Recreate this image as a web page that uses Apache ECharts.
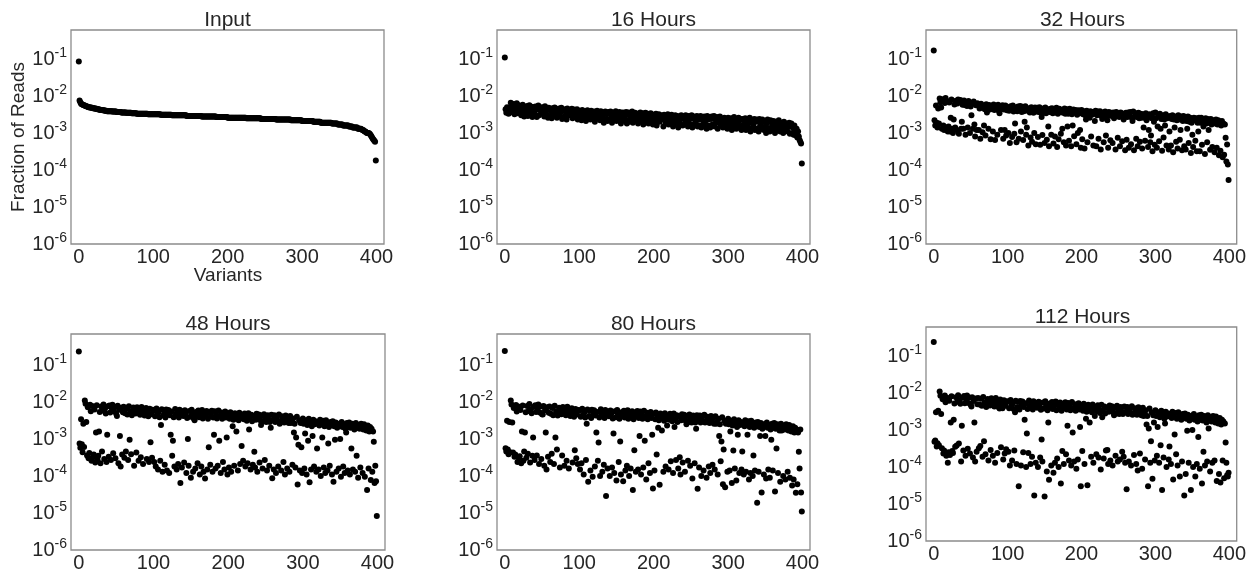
<!DOCTYPE html>
<html><head><meta charset="utf-8">
<script src="https://cdn.jsdelivr.net/npm/echarts@6/dist/echarts.min.js"></script>
<style>html,body{margin:0;padding:0;background:#fff}#c{width:1249px;height:573px}</style>
</head><body><div id="c"></div>
<script>
// ---- data (fraction of reads per variant) ----
const titles = ['Input', '16 Hours', '32 Hours', '48 Hours', '80 Hours', '112 Hours'];
const xTicks = [0, 100, 200, 300, 400];
const yTickExponents = [-6, -5, -4, -3, -2, -1];

const input = [
8.5e-2,7.5e-3,6.8e-3,6.2e-3,6.0e-3,5.9e-3,5.7e-3,5.6e-3,5.5e-3,5.4e-3,5.3e-3,5.2e-3,5.1e-3,5.0e-3,5.0e-3,4.9e-3,4.9e-3,4.8e-3,4.8e-3,4.7e-3,
4.7e-3,4.6e-3,4.6e-3,4.5e-3,4.5e-3,4.4e-3,4.4e-3,4.3e-3,4.3e-3,4.2e-3,4.2e-3,4.2e-3,4.1e-3,4.1e-3,4.1e-3,4.0e-3,4.0e-3,4.0e-3,3.9e-3,3.9e-3,
3.9e-3,3.9e-3,3.9e-3,3.9e-3,3.9e-3,3.8e-3,3.8e-3,3.8e-3,3.8e-3,3.8e-3,3.8e-3,3.7e-3,3.7e-3,3.7e-3,3.7e-3,3.7e-3,3.7e-3,3.6e-3,3.6e-3,3.6e-3,
3.6e-3,3.6e-3,3.6e-3,3.6e-3,3.5e-3,3.5e-3,3.5e-3,3.5e-3,3.5e-3,3.5e-3,3.5e-3,3.4e-3,3.4e-3,3.4e-3,3.4e-3,3.4e-3,3.4e-3,3.4e-3,3.3e-3,3.3e-3,
3.3e-3,3.3e-3,3.3e-3,3.3e-3,3.3e-3,3.3e-3,3.3e-3,3.3e-3,3.3e-3,3.3e-3,3.3e-3,3.3e-3,3.3e-3,3.2e-3,3.2e-3,3.2e-3,3.2e-3,3.2e-3,3.2e-3,3.2e-3,
3.2e-3,3.2e-3,3.2e-3,3.2e-3,3.2e-3,3.2e-3,3.2e-3,3.2e-3,3.2e-3,3.2e-3,3.1e-3,3.1e-3,3.1e-3,3.1e-3,3.1e-3,3.1e-3,3.1e-3,3.1e-3,3.1e-3,3.1e-3,
3.1e-3,3.1e-3,3.1e-3,3.1e-3,3.1e-3,3.0e-3,3.0e-3,3.0e-3,3.0e-3,3.0e-3,3.0e-3,3.0e-3,3.0e-3,3.0e-3,3.0e-3,3.0e-3,3.0e-3,3.0e-3,3.0e-3,3.0e-3,
3.0e-3,3.0e-3,3.0e-3,3.0e-3,3.0e-3,2.9e-3,2.9e-3,2.9e-3,2.9e-3,2.9e-3,2.9e-3,2.9e-3,2.9e-3,2.9e-3,2.9e-3,2.9e-3,2.9e-3,2.9e-3,2.9e-3,2.9e-3,
2.9e-3,2.9e-3,2.9e-3,2.9e-3,2.9e-3,2.8e-3,2.8e-3,2.8e-3,2.8e-3,2.8e-3,2.8e-3,2.8e-3,2.8e-3,2.8e-3,2.8e-3,2.8e-3,2.8e-3,2.8e-3,2.8e-3,2.8e-3,
2.8e-3,2.8e-3,2.8e-3,2.8e-3,2.8e-3,2.7e-3,2.7e-3,2.7e-3,2.7e-3,2.7e-3,2.7e-3,2.7e-3,2.7e-3,2.7e-3,2.7e-3,2.7e-3,2.7e-3,2.7e-3,2.7e-3,2.7e-3,
2.6e-3,2.6e-3,2.6e-3,2.6e-3,2.6e-3,2.6e-3,2.6e-3,2.6e-3,2.6e-3,2.6e-3,2.6e-3,2.6e-3,2.6e-3,2.6e-3,2.6e-3,2.6e-3,2.6e-3,2.6e-3,2.6e-3,2.6e-3,
2.6e-3,2.6e-3,2.6e-3,2.6e-3,2.6e-3,2.5e-3,2.5e-3,2.5e-3,2.5e-3,2.5e-3,2.5e-3,2.5e-3,2.5e-3,2.5e-3,2.5e-3,2.5e-3,2.5e-3,2.5e-3,2.5e-3,2.5e-3,
2.5e-3,2.5e-3,2.5e-3,2.5e-3,2.5e-3,2.4e-3,2.4e-3,2.4e-3,2.4e-3,2.4e-3,2.4e-3,2.4e-3,2.4e-3,2.4e-3,2.4e-3,2.4e-3,2.4e-3,2.4e-3,2.4e-3,2.4e-3,
2.4e-3,2.4e-3,2.4e-3,2.4e-3,2.4e-3,2.3e-3,2.3e-3,2.3e-3,2.3e-3,2.3e-3,2.3e-3,2.3e-3,2.3e-3,2.3e-3,2.3e-3,2.3e-3,2.3e-3,2.3e-3,2.3e-3,2.3e-3,
2.3e-3,2.3e-3,2.3e-3,2.3e-3,2.3e-3,2.2e-3,2.2e-3,2.2e-3,2.2e-3,2.2e-3,2.2e-3,2.2e-3,2.2e-3,2.2e-3,2.2e-3,2.2e-3,2.2e-3,2.2e-3,2.2e-3,2.2e-3,
2.1e-3,2.1e-3,2.1e-3,2.1e-3,2.1e-3,2.1e-3,2.1e-3,2.1e-3,2.1e-3,2.1e-3,2.1e-3,2.1e-3,2.1e-3,2.1e-3,2.1e-3,2.0e-3,2.0e-3,2.0e-3,2.0e-3,2.0e-3,
2.0e-3,2.0e-3,2.0e-3,2.0e-3,2.0e-3,1.9e-3,1.9e-3,1.9e-3,1.9e-3,1.9e-3,1.9e-3,1.9e-3,1.9e-3,1.9e-3,1.9e-3,1.9e-3,1.9e-3,1.9e-3,1.9e-3,1.9e-3,
1.8e-3,1.8e-3,1.8e-3,1.8e-3,1.8e-3,1.8e-3,1.8e-3,1.8e-3,1.7e-3,1.7e-3,1.7e-3,1.7e-3,1.7e-3,1.7e-3,1.7e-3,1.6e-3,1.6e-3,1.6e-3,1.6e-3,1.6e-3,
1.6e-3,1.6e-3,1.6e-3,1.5e-3,1.5e-3,1.5e-3,1.5e-3,1.5e-3,1.4e-3,1.4e-3,1.4e-3,1.4e-3,1.4e-3,1.4e-3,1.4e-3,1.3e-3,1.3e-3,1.3e-3,1.3e-3,1.3e-3,
1.25e-3,1.2e-3,1.2e-3,1.15e-3,1.1e-3,1.1e-3,1.05e-3,1.0e-3,1.0e-3,1.0e-3,9.8e-4,9.4e-4,8.8e-4,8.2e-4,7.6e-4,7.0e-4,6.6e-4,6.2e-4,5.8e-4,1.8e-4];

const h16 = [
1.1e-1,4.4e-3,3.5e-3,5.0e-3,4.1e-3,3.3e-3,4.7e-3,3.9e-3,6.6e-3,5.4e-3,4.5e-3,3.6e-3,6.1e-3,3.2e-3,4.2e-3,5.2e-3,6.4e-3,3.4e-3,5.7e-3,3.8e-3,
3.5e-3,4.9e-3,3.0e-3,4.2e-3,5.8e-3,3.4e-3,2.8e-3,3.9e-3,4.6e-3,3.2e-3,5.4e-3,2.9e-3,4.4e-3,5.6e-3,3.6e-3,4.8e-3,5.1e-3,2.7e-3,4.0e-3,4.5e-3,
3.3e-3,5.2e-3,4.3e-3,2.7e-3,4.9e-3,5.5e-3,3.0e-3,4.2e-3,4.7e-3,3.4e-3,5.0e-3,3.8e-3,4.1e-3,2.8e-3,5.3e-3,3.6e-3,3.1e-3,4.4e-3,2.6e-3,4.8e-3,
4.5e-3,2.9e-3,3.9e-3,2.5e-3,4.7e-3,4.1e-3,3.1e-3,4.9e-3,3.5e-3,3.8e-3,2.6e-3,4.4e-3,3.3e-3,4.6e-3,2.9e-3,3.7e-3,4.8e-3,2.4e-3,4.2e-3,4.0e-3,
2.8e-3,4.4e-3,3.7e-3,2.3e-3,4.6e-3,3.9e-3,3.0e-3,4.1e-3,3.5e-3,3.2e-3,4.5e-3,2.5e-3,3.6e-3,4.3e-3,2.8e-3,3.8e-3,3.1e-3,4.4e-3,2.3e-3,3.6e-3,
4.0e-3,2.6e-3,3.5e-3,2.2e-3,4.2e-3,3.3e-3,2.7e-3,3.9e-3,3.4e-3,2.1e-3,3.0e-3,4.1e-3,2.5e-3,3.6e-3,3.2e-3,2.3e-3,4.0e-3,3.5e-3,2.6e-3,3.7e-3,
3.8e-3,2.0e-3,3.3e-3,2.8e-3,4.0e-3,2.5e-3,3.0e-3,3.5e-3,2.2e-3,3.9e-3,3.1e-3,2.6e-3,3.6e-3,1.9e-3,3.4e-3,3.8e-3,2.4e-3,3.2e-3,2.1e-3,3.7e-3,
3.4e-3,2.3e-3,3.8e-3,3.0e-3,1.9e-3,3.6e-3,2.7e-3,2.4e-3,3.2e-3,3.9e-3,2.1e-3,3.5e-3,3.0e-3,2.5e-3,3.7e-3,2.6e-3,1.8e-3,3.3e-3,3.6e-3,2.2e-3,
3.5e-3,3.0e-3,2.3e-3,3.7e-3,1.8e-3,3.2e-3,3.6e-3,2.0e-3,2.9e-3,2.4e-3,3.4e-3,3.8e-3,1.9e-3,3.1e-3,2.6e-3,3.5e-3,2.2e-3,2.9e-3,3.3e-3,1.8e-3,
3.2e-3,2.5e-3,3.6e-3,2.1e-3,2.9e-3,3.4e-3,1.7e-3,3.1e-3,2.4e-3,3.5e-3,2.0e-3,2.8e-3,3.3e-3,1.8e-3,3.0e-3,2.2e-3,3.4e-3,2.8e-3,2.3e-3,1.7e-3,
3.1e-3,1.9e-3,2.6e-3,3.3e-3,1.6e-3,2.8e-3,2.2e-3,3.2e-3,2.0e-3,2.5e-3,3.0e-3,2.3e-3,2.7e-3,1.5e-3,3.1e-3,2.6e-3,1.8e-3,2.9e-3,2.1e-3,3.2e-3,
1.7e-3,2.9e-3,2.5e-3,1.9e-3,3.1e-3,2.6e-3,1.5e-3,2.8e-3,2.1e-3,3.0e-3,1.8e-3,2.4e-3,2.9e-3,1.4e-3,2.7e-3,2.2e-3,1.7e-3,3.0e-3,2.5e-3,1.6e-3,
2.8e-3,2.4e-3,1.8e-3,3.0e-3,2.0e-3,2.6e-3,1.5e-3,2.9e-3,2.3e-3,1.7e-3,2.7e-3,3.0e-3,1.4e-3,2.5e-3,2.8e-3,1.8e-3,2.4e-3,2.1e-3,2.9e-3,1.5e-3,
2.7e-3,1.6e-3,2.3e-3,2.9e-3,1.4e-3,2.6e-3,2.2e-3,1.7e-3,2.8e-3,2.0e-3,2.5e-3,1.3e-3,2.9e-3,2.3e-3,1.6e-3,2.7e-3,1.4e-3,2.4e-3,2.8e-3,1.7e-3,
2.5e-3,2.9e-3,1.5e-3,2.3e-3,1.9e-3,2.7e-3,1.3e-3,2.4e-3,2.0e-3,2.8e-3,1.6e-3,1.8e-3,2.2e-3,1.4e-3,2.0e-3,2.6e-3,1.5e-3,2.3e-3,1.9e-3,1.3e-3,
2.6e-3,2.2e-3,1.4e-3,1.9e-3,2.5e-3,1.2e-3,2.1e-3,1.7e-3,2.7e-3,1.5e-3,2.3e-3,1.3e-3,2.0e-3,1.8e-3,2.6e-3,1.4e-3,2.2e-3,2.4e-3,1.2e-3,1.6e-3,
2.4e-3,1.4e-3,2.1e-3,2.5e-3,1.2e-3,2.0e-3,1.7e-3,2.3e-3,1.3e-3,2.6e-3,1.1e-3,2.2e-3,1.9e-3,1.4e-3,1.6e-3,2.4e-3,1.2e-3,2.0e-3,2.3e-3,1.3e-3,
2.2e-3,1.1e-3,2.4e-3,1.6e-3,1.9e-3,1.3e-3,2.3e-3,2.0e-3,1.2e-3,2.1e-3,1.5e-3,1.0e-3,1.8e-3,2.3e-3,1.3e-3,2.0e-3,1.1e-3,2.2e-3,1.4e-3,1.9e-3,
1.2e-3,2.1e-3,1.7e-3,1.0e-3,2.0e-3,1.4e-3,1.8e-3,1.2e-3,2.2e-3,1.6e-3,1.1e-3,1.9e-3,1.3e-3,1.7e-3,1.0e-3,2.0e-3,1.6e-3,1.2e-3,1.8e-3,1.5e-3,
1.1e-3,1.7e-3,1.9e-3,9.5e-4,1.5e-3,1.8e-3,1.0e-3,1.4e-3,9.0e-4,1.6e-3,1.2e-3,8.5e-4,1.3e-3,7.5e-4,1.1e-3,8.0e-4,6.5e-4,5.8e-4,5.2e-4,1.5e-4];

const h32 = [
1.7e-1,2.2e-3,1.6e-3,5.5e-3,1.9e-3,1.4e-3,4.6e-3,1.8e-3,8.6e-3,6.8e-3,4.9e-3,1.3e-3,8.2e-3,1.6e-3,1.2e-3,6.5e-3,8.8e-3,1.4e-3,7.3e-3,1.1e-3,
1.5e-3,6.7e-3,1.1e-3,2.6e-3,8.1e-3,1.3e-3,1.0e-3,2.3e-3,5.9e-3,1.4e-3,7.4e-3,1.2e-3,6.3e-3,8.0e-3,9.5e-4,6.9e-3,7.8e-3,1.3e-3,2.0e-3,5.8e-3,
1.3e-3,7.6e-3,5.7e-3,9.0e-4,6.9e-3,5.4e-3,1.4e-3,7.3e-3,6.2e-3,1.0e-3,5.2e-3,3.0e-3,6.6e-3,1.3e-3,7.1e-3,1.7e-3,8.0e-4,5.6e-3,1.2e-3,6.4e-3,
5.8e-3,1.2e-3,4.6e-3,7.0e-4,6.2e-3,4.9e-3,1.05e-3,5.5e-3,1.6e-3,4.4e-3,8.5e-4,6.0e-3,3.6e-3,4.8e-3,1.3e-3,5.7e-3,4.3e-3,6.8e-4,5.3e-3,4.7e-3,
1.1e-3,5.9e-3,4.2e-3,6.5e-4,5.4e-3,4.5e-3,9.0e-4,5.8e-3,4.0e-3,3.4e-3,5.1e-3,1.2e-3,4.6e-3,5.6e-3,7.0e-4,4.3e-3,1.2e-3,5.5e-3,8.5e-4,4.1e-3,
5.0e-3,1.0e-3,4.0e-3,5.4e-4,5.3e-3,4.2e-3,7.8e-4,5.5e-3,3.8e-3,9.5e-4,1.8e-3,4.9e-3,5.6e-4,3.9e-3,5.2e-3,7.0e-4,4.4e-3,5.4e-3,1.1e-3,3.7e-3,
5.1e-3,6.5e-4,3.9e-3,2.0e-3,5.3e-3,9.0e-4,1.4e-3,4.0e-3,4.6e-4,4.7e-3,3.6e-3,7.6e-4,5.0e-3,5.8e-4,4.1e-3,3.5e-3,1.0e-3,4.9e-3,5.0e-4,3.8e-3,
4.8e-3,7.8e-4,3.7e-3,5.0e-3,4.8e-4,3.5e-3,2.7e-3,8.8e-4,4.6e-3,3.6e-3,5.4e-4,4.9e-3,3.4e-3,6.6e-4,4.4e-3,1.5e-3,4.4e-4,3.7e-3,4.5e-3,9.0e-4,
4.7e-3,3.4e-3,5.2e-4,4.4e-3,8.0e-4,3.6e-3,4.8e-3,4.2e-4,3.3e-3,6.8e-4,4.5e-3,3.7e-3,9.5e-4,4.2e-3,1.3e-3,3.5e-3,5.6e-4,4.6e-3,3.3e-3,4.6e-4,
4.4e-3,1.5e-3,3.3e-3,6.2e-4,4.5e-3,3.5e-3,4.4e-4,3.2e-3,1.6e-3,4.3e-3,8.2e-4,3.6e-3,4.2e-3,5.0e-4,3.1e-3,1.0e-3,4.1e-3,3.4e-3,1.2e-3,4.0e-4,
4.2e-3,6.8e-4,3.2e-3,3.9e-3,3.8e-4,3.0e-3,2.3e-3,4.0e-3,5.6e-4,3.4e-3,3.0e-3,2.6e-3,3.9e-3,8.0e-4,3.1e-3,3.7e-3,4.6e-4,3.3e-3,2.1e-3,4.0e-3,
4.4e-4,3.0e-3,3.8e-3,7.0e-4,3.2e-3,3.9e-3,3.6e-4,2.9e-3,2.4e-3,3.6e-3,5.6e-4,3.1e-3,3.8e-3,8.5e-4,2.8e-3,2.2e-3,4.0e-4,3.7e-3,3.0e-3,6.4e-4,
3.5e-3,2.9e-3,5.4e-4,3.6e-3,2.5e-3,2.8e-3,3.6e-4,3.7e-3,3.0e-3,7.4e-4,3.4e-3,2.7e-3,4.4e-4,3.6e-3,2.9e-3,6.0e-4,3.3e-3,2.3e-3,2.7e-3,3.4e-4,
3.5e-3,6.6e-4,2.7e-3,3.6e-3,4.0e-4,3.0e-3,3.7e-3,5.0e-4,2.6e-3,2.1e-3,3.8e-3,3.4e-4,2.8e-3,3.4e-3,7.0e-4,2.7e-3,4.4e-4,3.5e-3,2.5e-3,5.8e-4,
3.3e-3,2.6e-3,3.8e-4,3.2e-3,1.4e-3,2.6e-3,6.2e-4,3.4e-3,2.2e-3,2.7e-3,4.2e-4,1.2e-3,3.2e-3,5.6e-4,8.5e-4,2.5e-3,3.2e-4,3.4e-3,2.0e-3,4.8e-4,
3.6e-3,2.5e-3,4.0e-4,1.5e-3,2.9e-3,6.0e-4,3.3e-3,1.3e-3,2.4e-3,3.3e-4,3.0e-3,7.5e-4,2.3e-3,1.6e-3,3.2e-3,4.6e-4,2.5e-3,2.8e-3,3.6e-4,1.1e-3,
2.9e-3,4.6e-4,2.4e-3,3.0e-3,3.0e-4,2.3e-3,1.4e-3,2.8e-3,5.8e-4,2.2e-3,3.8e-4,3.0e-3,2.3e-3,6.6e-4,1.2e-3,2.8e-3,3.4e-4,2.1e-3,2.9e-3,4.4e-4,
2.7e-3,3.6e-4,2.1e-3,1.3e-3,2.8e-3,5.4e-4,2.0e-3,2.6e-3,2.9e-4,1.9e-3,9.0e-4,4.2e-4,2.6e-3,2.2e-3,6.2e-4,2.5e-3,3.2e-4,1.9e-3,1.1e-3,2.6e-3,
3.2e-4,1.9e-3,2.6e-3,4.8e-4,2.3e-3,1.5e-3,2.0e-3,2.7e-4,2.5e-3,1.8e-3,5.6e-4,2.4e-3,1.2e-3,1.9e-3,3.5e-4,2.4e-3,1.7e-3,4.2e-4,2.2e-3,2.0e-3,
3.0e-4,1.8e-3,2.3e-3,4.0e-4,1.7e-3,2.2e-3,2.5e-4,1.9e-3,3.3e-4,1.6e-3,2.1e-3,2.2e-4,1.8e-3,2.6e-4,1.7e-3,7.4e-4,1.7e-4,4.9e-4,1.4e-4,5.4e-5];

const h48 = [
2.3e-1,7.5e-4,5.8e-4,3.4e-3,7.2e-4,4.4e-4,2.6e-3,6.1e-4,1.1e-2,9.0e-3,2.9e-3,3.6e-4,7.2e-3,3.0e-4,4.2e-4,8.4e-3,5.6e-3,2.6e-4,7.8e-3,3.2e-4,
3.8e-4,6.3e-3,2.3e-4,1.5e-3,8.2e-3,2.8e-4,3.5e-4,1.6e-3,5.4e-3,2.2e-4,7.5e-3,4.6e-4,5.9e-3,8.6e-3,2.9e-4,6.6e-3,4.9e-3,2.4e-4,1.3e-3,7.7e-3,
3.3e-4,8.0e-3,5.2e-3,2.7e-4,6.9e-3,8.4e-3,4.1e-4,5.6e-3,7.3e-3,3.0e-4,4.8e-3,4.2e-3,7.9e-3,2.2e-4,6.2e-3,1.2e-3,1.8e-4,7.0e-3,3.8e-4,5.3e-3,
7.4e-3,3.1e-4,5.0e-3,4.6e-4,6.8e-3,4.6e-3,2.7e-4,7.7e-3,9.5e-4,5.5e-3,3.9e-4,4.4e-3,5.2e-3,7.1e-3,1.9e-4,5.8e-3,4.9e-3,4.3e-4,7.2e-3,5.3e-3,
2.6e-4,6.5e-3,4.5e-3,3.2e-4,7.3e-3,5.1e-3,2.1e-4,6.0e-3,4.3e-3,4.8e-3,6.9e-3,2.9e-4,5.3e-3,4.1e-3,2.4e-4,6.6e-3,8.2e-4,4.7e-3,3.1e-4,6.2e-3,
5.8e-3,2.4e-4,4.1e-3,1.8e-4,6.7e-3,4.6e-3,1.5e-4,5.4e-3,3.9e-3,2.6e-4,2.4e-3,6.4e-3,1.3e-4,4.3e-3,5.9e-3,2.0e-4,3.8e-3,6.3e-3,1.4e-4,4.8e-3,
6.1e-3,1.2e-4,4.4e-3,1.3e-3,5.5e-3,3.5e-4,9.0e-4,3.9e-3,1.8e-4,6.5e-3,4.7e-3,1.5e-4,5.2e-3,2.1e-4,3.8e-3,6.2e-3,6.5e-5,4.5e-3,1.7e-4,5.6e-3,
4.2e-3,2.3e-4,6.0e-3,4.9e-3,1.2e-4,3.7e-3,1.0e-3,1.9e-4,5.7e-3,4.0e-3,9.0e-5,6.2e-3,4.6e-3,1.3e-4,3.6e-3,3.2e-3,1.6e-4,5.4e-3,4.3e-3,2.2e-4,
5.9e-3,3.9e-3,1.1e-4,4.8e-3,1.8e-4,6.1e-3,3.6e-3,1.3e-4,5.0e-3,8.5e-5,4.2e-3,5.7e-3,1.5e-4,3.5e-3,6.0e-4,5.3e-3,2.0e-4,4.4e-3,5.8e-3,1.3e-4,
3.8e-3,1.3e-3,5.6e-3,1.6e-4,4.5e-3,3.6e-3,1.9e-4,5.9e-3,9.0e-4,4.1e-3,1.2e-4,5.2e-3,3.5e-3,2.4e-4,4.7e-3,1.5e-4,5.5e-3,3.8e-3,1.1e-3,1.1e-4,
4.9e-3,1.7e-4,3.5e-3,5.3e-3,1.3e-4,4.1e-3,2.2e-3,3.3e-3,1.9e-4,5.0e-3,3.9e-3,1.6e-3,4.6e-3,1.4e-4,3.2e-3,5.1e-3,2.1e-4,3.7e-3,6.5e-4,4.4e-3,
2.6e-4,3.4e-3,4.9e-3,1.8e-4,3.8e-3,3.1e-3,2.2e-4,5.0e-3,1.8e-3,3.5e-3,1.5e-4,4.5e-3,3.0e-3,2.0e-4,4.2e-3,4.5e-4,1.7e-4,3.3e-3,4.8e-3,1.3e-4,
3.7e-3,4.6e-3,2.3e-4,3.2e-3,2.4e-3,4.3e-3,1.6e-4,3.0e-3,4.7e-3,2.7e-4,3.6e-3,2.9e-3,1.4e-4,4.4e-3,3.4e-3,1.9e-4,2.9e-3,2.0e-3,4.5e-3,8.7e-5,
3.3e-3,1.5e-4,4.4e-3,2.9e-3,1.2e-4,3.9e-3,3.1e-3,1.8e-4,4.6e-3,2.6e-3,3.0e-3,1.4e-4,4.1e-3,3.5e-3,2.4e-4,2.8e-3,1.1e-4,4.3e-3,3.2e-3,1.6e-4,
3.8e-3,2.7e-3,1.3e-4,4.2e-3,2.7e-3,3.0e-3,2.0e-4,3.6e-3,1.5e-3,2.6e-3,1.7e-4,1.1e-3,4.0e-3,5.9e-5,7.0e-4,3.2e-3,1.4e-4,2.7e-3,6.0e-4,1.2e-4,
3.6e-3,2.6e-3,1.6e-4,1.4e-3,3.2e-3,1.1e-4,2.4e-3,9.0e-4,3.5e-3,6.8e-5,2.8e-3,1.5e-4,2.2e-3,1.2e-3,3.3e-3,1.8e-4,2.5e-3,3.0e-3,1.3e-4,5.5e-4,
2.9e-3,1.5e-4,2.3e-3,3.3e-3,1.0e-4,2.6e-3,1.1e-3,3.1e-3,1.7e-4,2.2e-3,1.2e-4,3.2e-3,2.5e-3,1.4e-4,7.5e-4,2.1e-3,1.9e-4,2.9e-3,2.4e-3,1.1e-4,
3.0e-3,7.0e-5,2.2e-3,9.5e-4,2.8e-3,1.3e-4,2.0e-3,2.6e-3,1.6e-4,2.3e-3,1.0e-3,9.5e-5,2.9e-3,2.1e-3,1.8e-4,2.5e-3,1.2e-4,1.9e-3,1.5e-3,2.7e-3,
1.4e-4,2.1e-3,2.8e-3,1.1e-4,2.0e-3,5.5e-4,2.6e-3,1.5e-4,2.3e-3,1.8e-3,1.3e-4,2.7e-3,3.5e-4,2.0e-3,9.0e-5,2.4e-3,1.9e-3,1.7e-4,2.6e-3,2.0e-3,
1.2e-4,1.8e-3,2.5e-3,9.5e-5,2.0e-3,1.7e-3,4.2e-5,2.3e-3,1.6e-4,1.6e-3,2.1e-3,7.8e-5,1.9e-3,1.3e-4,1.6e-3,8.4e-4,6.5e-5,1.9e-4,7.2e-5,8.3e-6];

const h80 = [
2.4e-1,5.6e-4,4.6e-4,3.1e-3,5.2e-4,3.9e-4,2.9e-3,4.4e-4,1.1e-2,8.6e-3,2.8e-3,4.3e-4,6.9e-3,3.3e-4,3.8e-4,8.3e-3,5.5e-3,2.4e-4,7.6e-3,3.0e-4,
3.4e-4,6.1e-3,2.2e-4,1.6e-3,8.0e-3,2.6e-4,4.6e-4,1.5e-3,5.3e-3,3.1e-4,7.8e-3,4.0e-4,5.7e-3,8.8e-3,2.3e-4,6.4e-3,5.0e-3,3.5e-4,1.1e-3,7.4e-3,
2.7e-4,8.2e-3,5.4e-3,3.6e-4,6.6e-3,8.5e-3,2.1e-4,5.2e-3,7.6e-3,2.9e-4,4.7e-3,4.6e-3,7.8e-3,1.9e-4,6.0e-3,1.5e-3,1.5e-4,7.2e-3,3.3e-4,5.1e-3,
7.5e-3,2.4e-4,4.8e-3,4.0e-4,6.9e-3,4.4e-3,2.1e-4,7.9e-3,1.1e-3,5.6e-3,5.2e-4,4.3e-3,5.4e-3,7.0e-3,1.7e-4,5.7e-3,4.7e-3,3.6e-4,7.3e-3,5.2e-3,
1.9e-4,6.4e-3,4.4e-3,2.6e-4,7.4e-3,5.0e-3,1.6e-4,6.1e-3,4.2e-3,4.4e-3,6.8e-3,2.3e-4,5.2e-3,4.0e-3,5.0e-4,6.5e-3,3.0e-4,4.6e-3,2.1e-4,6.1e-3,
5.9e-3,1.5e-4,4.0e-3,2.2e-4,6.6e-3,4.5e-3,1.1e-4,5.3e-3,3.8e-3,2.7e-4,2.6e-3,6.3e-3,7.0e-5,4.2e-3,5.8e-3,1.4e-4,3.7e-3,6.2e-3,9.5e-5,4.7e-3,
6.0e-3,1.8e-4,4.3e-3,1.5e-3,5.4e-3,2.6e-4,8.0e-4,3.8e-3,1.0e-4,6.4e-3,4.6e-3,1.3e-4,5.1e-3,2.0e-4,3.7e-3,6.1e-3,2.9e-5,4.4e-3,1.6e-4,5.5e-3,
4.1e-3,1.0e-4,5.9e-3,4.8e-3,1.7e-4,3.6e-3,1.4e-3,1.2e-4,5.6e-3,3.9e-3,7.5e-5,6.1e-3,4.5e-3,2.4e-4,3.5e-3,8.5e-4,1.1e-4,5.3e-3,4.2e-3,7.2e-5,
5.8e-3,3.8e-3,1.4e-4,4.7e-3,1.9e-4,6.0e-3,3.5e-3,1.0e-4,4.9e-3,1.6e-4,4.1e-3,5.6e-3,4.2e-5,3.4e-3,5.0e-4,5.2e-3,1.3e-4,4.3e-3,5.7e-3,1.5e-4,
3.7e-3,1.2e-3,5.5e-3,1.1e-4,4.4e-3,3.5e-3,1.7e-4,5.8e-3,9.0e-4,4.0e-3,8.0e-5,5.1e-3,3.4e-3,2.2e-4,4.6e-3,1.2e-4,5.4e-3,3.7e-3,1.3e-3,4.6e-5,
4.8e-3,1.4e-4,3.4e-3,5.2e-3,3.8e-4,4.0e-3,2.0e-3,3.2e-3,5.8e-5,4.9e-3,3.8e-3,1.7e-3,4.5e-3,1.3e-4,3.1e-3,5.0e-3,1.8e-4,3.6e-3,2.3e-3,4.3e-3,
1.5e-4,3.3e-3,4.8e-3,2.5e-4,3.7e-3,3.0e-3,1.2e-4,4.9e-3,2.1e-3,3.4e-3,2.7e-4,4.4e-3,2.9e-3,1.6e-4,4.1e-3,3.2e-4,1.1e-4,3.2e-3,4.7e-3,2.3e-4,
3.6e-3,4.5e-3,1.3e-4,3.1e-3,2.5e-3,4.2e-3,2.6e-4,2.9e-3,4.6e-3,1.9e-4,3.5e-3,2.8e-3,8.5e-5,4.3e-3,3.3e-3,2.2e-4,2.8e-3,1.9e-3,4.4e-3,4.5e-5,
3.2e-3,1.7e-4,4.3e-3,2.8e-3,1.0e-4,3.8e-3,3.0e-3,1.4e-4,4.5e-3,2.8e-3,2.9e-3,9.0e-5,4.0e-3,3.4e-3,1.8e-4,2.7e-3,1.2e-4,4.2e-3,3.1e-3,2.0e-4,
3.7e-3,2.6e-3,1.5e-4,4.1e-3,2.6e-3,2.9e-3,1.1e-4,3.5e-3,1.2e-3,2.5e-3,2.5e-4,8.5e-4,3.9e-3,6.0e-5,5.2e-4,3.1e-3,5.0e-5,2.6e-3,3.1e-3,1.3e-4,
3.5e-3,2.5e-3,1.4e-4,1.6e-3,3.1e-3,6.5e-5,2.3e-3,4.9e-4,3.4e-3,1.6e-4,2.7e-3,7.5e-5,2.1e-3,1.3e-3,3.2e-3,1.2e-4,2.4e-3,2.9e-3,1.5e-4,4.6e-4,
2.8e-3,1.1e-4,2.2e-3,3.2e-3,1.3e-4,2.5e-3,1.3e-3,3.0e-3,8.0e-5,2.1e-3,1.2e-4,3.1e-3,2.4e-3,1.0e-4,3.6e-4,2.0e-3,1.4e-4,2.8e-3,2.3e-3,1.9e-5,
2.9e-3,1.3e-4,2.1e-3,1.2e-3,2.7e-3,3.6e-5,1.9e-3,2.5e-3,1.1e-4,2.2e-3,1.2e-3,8.5e-5,2.8e-3,2.0e-3,1.5e-4,2.4e-3,9.0e-5,1.8e-3,9.5e-4,2.6e-3,
1.4e-4,2.0e-3,2.7e-3,3.8e-5,1.9e-3,5.5e-4,2.5e-3,1.2e-4,2.2e-3,1.7e-3,7.0e-5,2.6e-3,1.7e-3,1.9e-3,1.0e-4,2.3e-3,1.8e-3,8.0e-5,2.5e-3,1.9e-3,
1.3e-4,1.7e-3,2.4e-3,9.0e-5,1.9e-3,1.6e-3,5.5e-5,2.2e-3,8.0e-5,1.5e-3,2.0e-3,3.5e-5,1.8e-3,6.0e-5,1.5e-3,4.5e-4,1.6e-4,1.8e-3,3.6e-5,1.1e-5];

const h112 = [
2.4e-1,4.8e-4,5.2e-4,3.0e-3,3.6e-4,4.4e-4,3.3e-3,3.9e-4,1.1e-2,8.4e-3,2.7e-3,3.2e-4,6.8e-3,2.3e-4,2.8e-4,8.5e-3,5.6e-3,2.0e-4,7.4e-3,1.3e-4,
2.5e-4,6.2e-3,2.1e-4,1.6e-3,8.2e-3,2.7e-4,2.4e-4,1.9e-3,5.2e-3,3.5e-4,7.7e-3,3.8e-4,5.8e-3,8.7e-3,4.3e-4,6.3e-3,5.1e-3,1.4e-4,1.3e-3,7.5e-3,
2.8e-4,8.3e-3,5.3e-3,2.0e-4,6.7e-3,8.6e-3,3.1e-4,5.4e-3,7.5e-3,2.3e-4,4.8e-3,4.3e-3,7.7e-3,1.8e-4,6.1e-3,1.6e-3,1.4e-4,7.1e-3,2.6e-4,5.0e-3,
7.3e-3,3.2e-4,4.9e-3,3.7e-4,7.0e-3,4.5e-3,1.9e-4,7.8e-3,5.0e-4,5.5e-3,2.2e-4,4.2e-3,4.8e-3,6.9e-3,1.5e-4,5.8e-3,4.6e-3,2.9e-4,7.2e-3,5.1e-3,
2.0e-4,6.3e-3,4.3e-3,1.3e-4,7.3e-3,4.9e-3,2.4e-4,6.0e-3,4.1e-3,3.8e-3,6.7e-3,3.4e-4,5.1e-3,3.9e-3,1.6e-4,6.4e-3,2.3e-4,4.5e-3,3.0e-4,6.0e-3,
5.8e-3,2.6e-4,3.9e-3,1.1e-4,6.5e-3,4.4e-3,1.5e-4,5.2e-3,3.7e-3,2.8e-4,3.0e-3,6.2e-3,1.2e-4,4.1e-3,5.7e-3,3.0e-5,3.6e-3,6.1e-3,1.1e-4,4.6e-3,
5.9e-3,2.5e-4,4.2e-3,1.9e-3,5.3e-3,1.0e-4,8.0e-4,3.7e-3,2.4e-4,6.3e-3,4.5e-3,1.2e-4,5.0e-3,1.9e-4,3.6e-3,6.0e-3,1.7e-5,4.3e-3,1.3e-4,5.4e-3,
4.0e-3,1.0e-4,5.8e-3,4.7e-3,1.8e-4,3.5e-3,5.5e-4,1.4e-4,5.5e-3,3.8e-3,1.6e-5,6.0e-3,4.4e-3,7.5e-5,3.4e-3,1.6e-3,4.5e-5,5.2e-3,4.1e-3,1.1e-4,
5.7e-3,3.7e-3,7.0e-5,4.6e-3,1.3e-4,5.9e-3,3.4e-3,1.7e-4,4.8e-3,1.0e-4,4.0e-3,5.5e-3,3.6e-5,3.3e-3,2.7e-4,5.1e-3,1.2e-4,4.2e-3,5.6e-3,2.2e-4,
3.6e-3,1.3e-3,5.4e-3,1.5e-4,4.3e-3,3.4e-3,1.1e-4,5.7e-3,8.5e-4,3.9e-3,1.4e-4,5.0e-3,3.3e-3,9.0e-5,4.5e-3,1.6e-4,5.3e-3,3.6e-3,1.2e-3,3.0e-5,
4.7e-3,2.7e-4,3.3e-3,5.1e-3,1.2e-4,3.9e-3,2.0e-3,3.1e-3,3.2e-5,4.8e-3,3.7e-3,1.6e-3,4.4e-3,1.9e-4,3.0e-3,4.9e-3,1.3e-4,3.5e-3,2.4e-3,4.2e-3,
2.2e-4,3.2e-3,4.7e-3,1.8e-4,3.6e-3,2.9e-3,8.5e-5,4.8e-3,2.2e-3,3.3e-3,1.7e-4,4.3e-3,2.8e-3,2.8e-4,4.0e-3,2.9e-4,1.2e-4,3.1e-3,4.6e-3,1.5e-4,
3.5e-3,4.4e-3,1.1e-4,3.0e-3,2.5e-3,4.1e-3,2.0e-4,2.8e-3,4.5e-3,1.4e-4,3.4e-3,2.7e-3,1.6e-4,4.2e-3,3.2e-3,2.6e-4,2.7e-3,1.9e-4,4.3e-3,1.3e-4,
3.1e-3,2.5e-5,4.2e-3,2.7e-3,1.4e-4,3.7e-3,2.9e-3,1.1e-4,4.4e-3,2.6e-3,2.8e-3,2.1e-4,3.9e-3,3.3e-3,1.2e-4,2.6e-3,8.0e-5,4.1e-3,3.0e-3,2.3e-4,
3.6e-3,2.5e-3,9.0e-5,4.0e-3,2.4e-3,2.8e-3,1.6e-4,3.4e-3,1.4e-3,2.4e-3,3.0e-5,1.1e-3,3.8e-3,1.3e-4,5.0e-4,3.0e-3,4.8e-5,2.5e-3,1.6e-3,1.5e-4,
3.4e-3,2.4e-3,2.0e-4,1.2e-3,3.0e-3,1.3e-4,2.2e-3,3.9e-4,3.3e-3,2.4e-5,2.6e-3,1.8e-4,2.0e-3,1.5e-3,3.1e-3,1.0e-4,2.3e-3,2.8e-3,1.6e-4,3.6e-4,
2.7e-3,1.2e-4,2.1e-3,3.1e-3,4.6e-5,2.4e-3,7.5e-4,2.9e-3,2.2e-4,2.0e-3,1.1e-4,3.0e-3,2.3e-3,5.5e-5,2.6e-3,1.9e-3,1.4e-4,2.7e-3,2.2e-3,1.7e-5,
2.8e-3,6.5e-5,2.0e-3,9.5e-4,2.6e-3,1.3e-4,1.8e-3,2.4e-3,2.4e-5,2.1e-3,1.0e-3,1.0e-4,2.7e-3,1.9e-3,5.5e-5,2.3e-3,1.2e-4,1.7e-3,6.5e-4,2.5e-3,
9.0e-5,1.9e-3,2.6e-3,3.6e-5,1.8e-3,2.6e-4,2.4e-3,1.1e-4,2.1e-3,1.6e-3,1.4e-4,2.5e-3,1.1e-3,1.8e-3,7.5e-5,2.2e-3,1.7e-3,1.3e-4,2.4e-3,1.8e-3,
1.5e-4,1.6e-3,2.3e-3,4.2e-5,1.8e-3,1.5e-3,6.5e-5,2.1e-3,3.8e-5,1.4e-3,1.9e-3,1.5e-4,1.7e-3,5.0e-5,1.5e-3,4.6e-4,1.3e-4,6.0e-5,5.5e-5,7.0e-5];

const seriesValues = [input, h16, h32, h48, h80, h112];

// ---- layout / style ----
const frames = [
  [71, 30, 313, 214], [497, 30, 313, 214], [926, 30, 313, 214],
  [71, 334, 314, 216], [497, 334, 313, 216], [926, 327, 313, 214]
];
const DECADE_PX = 37;
const X_MIN = -10.5, X_MAX = 410;
const FONT = '"Liberation Sans", Arial, Helvetica, sans-serif';
const TXT = '#262626';
const SPINE = '#8c8c8c';

const chart = echarts.init(document.getElementById('c'), null, {renderer: 'canvas'});
const option = {animation: false, backgroundColor: '#fff', grid: [], xAxis: [], yAxis: [], series: [], graphic: []};

const xFmt = v => xTicks.includes(Math.round(v)) && Math.abs(v - Math.round(v)) < 1e-6 ? String(Math.round(v)) : '';
const yFmt = v => {
  const r = Math.round(v);
  if (Math.abs(v - r) > 1e-6 || !yTickExponents.includes(r)) return '';
  return '{b|10}{s|' + r + '}';
};
const noTick = {show: false};

frames.forEach((f, i) => {
  const [left, top, w, h] = f;
  const yMax = -6 + h / DECADE_PX;
  option.grid.push({left, top, width: w, height: h, show: true, borderColor: SPINE, borderWidth: 1.3, backgroundColor: 'transparent'});
  option.xAxis.push({gridIndex: i, type: 'value', position: 'bottom', min: X_MIN, max: X_MAX, minInterval: 100, maxInterval: 100,
    axisLine: {show: false}, splitLine: {show: false}, axisTick: noTick,
    axisLabel: {margin: 3, fontSize: 20, color: TXT, fontFamily: FONT, formatter: xFmt}});
  option.yAxis.push({gridIndex: i, type: 'value', position: 'left', min: -6, max: yMax, interval: 1,
    axisLine: {show: false}, splitLine: {show: false}, axisTick: noTick,
    axisLabel: {margin: 4, color: TXT, fontFamily: FONT, formatter: yFmt,
      rich: {
        b: {fontSize: 20, lineHeight: 26, color: TXT, fontFamily: FONT},
        s: {fontSize: 14, lineHeight: 14, verticalAlign: 'top', color: TXT, fontFamily: FONT}
      }}});
  option.series.push({
    type: 'scatter', xAxisIndex: i, yAxisIndex: i, symbol: 'circle', symbolSize: 6,
    itemStyle: {color: '#000', opacity: 1}, silent: true,
    data: seriesValues[i].map((v, k) => [k, Math.log10(v)])
  });
  option.graphic.push({type: 'text', x: left + w / 2, y: top - 10, silent: true,
    style: {text: titles[i], font: '21px ' + FONT, fill: TXT, textAlign: 'center', textVerticalAlign: 'middle'}});
});
option.graphic.push({type: 'text', x: 18.5, y: 137, rotation: Math.PI / 2, silent: true,
  style: {text: 'Fraction of Reads', font: '19px ' + FONT, fill: TXT, textAlign: 'center', textVerticalAlign: 'middle'}});
option.graphic.push({type: 'text', x: 228, y: 276, silent: true,
  style: {text: 'Variants', font: '19px ' + FONT, fill: TXT, textAlign: 'center', textVerticalAlign: 'middle'}});

chart.setOption(option);
</script>
</body></html>
